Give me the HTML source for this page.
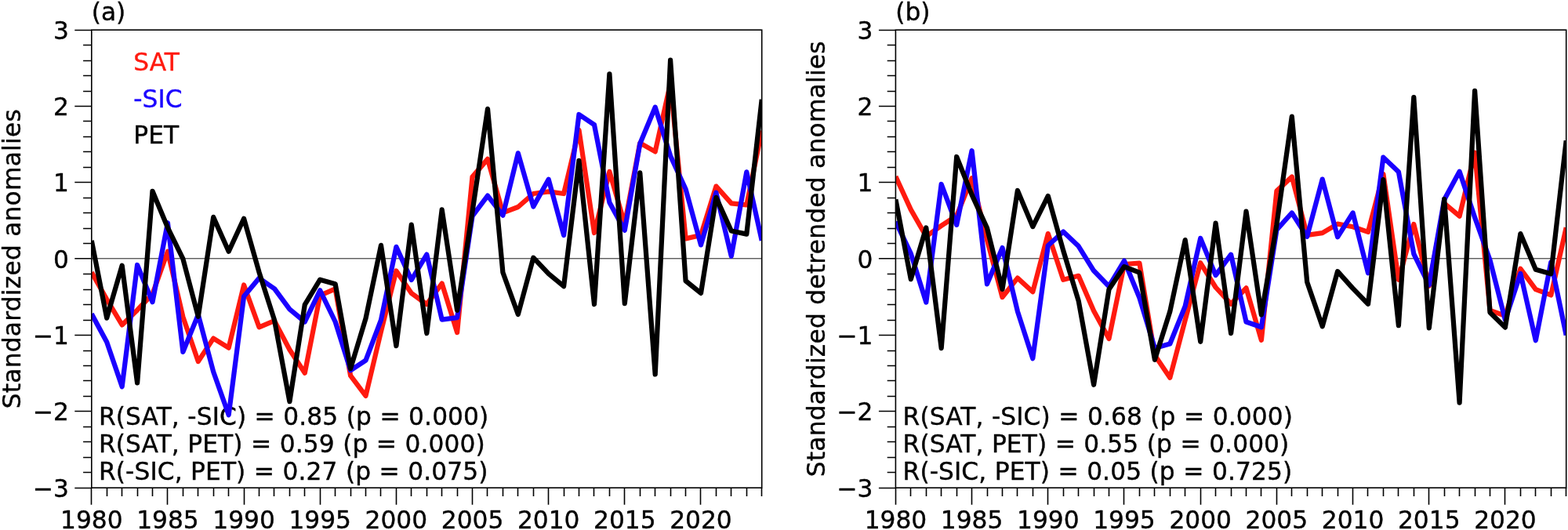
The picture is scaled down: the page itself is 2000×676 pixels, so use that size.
<!DOCTYPE html>
<html lang="en">
<head>
<meta charset="utf-8">
<title>Standardized anomalies of SAT, -SIC and PET</title>
<style>
html,body{margin:0;padding:0;background:#fff;}
body{width:2000px;height:676px;overflow:hidden;}
svg{display:block;}
text{font-family:"DejaVu Sans","Liberation Sans",sans-serif;font-size:31.25px;fill:#000;stroke:#000;stroke-width:0.4px;stroke-linejoin:round;}
.rt{word-spacing:0.4px;letter-spacing:0.1px;}
.yl{letter-spacing:0.25px;}
.ax{stroke:#000;stroke-width:1.6;fill:none;}
.tk{stroke:#000;stroke-width:1.6;fill:none;}
.zero{stroke:#1a1a1a;stroke-width:1;fill:none;}
.ln{fill:none;stroke-width:6.25;stroke-linejoin:round;stroke-linecap:butt;}
.sat{stroke:#ff1a0f;}
.sic{stroke:#1a00ff;}
.pet{stroke:#000;}
</style>
</head>
<body>
<svg width="2000" height="676" viewBox="0 0 2000 676">
<rect x="0" y="0" width="2000" height="676" fill="#fff"/>
<defs>
<clipPath id="clip-a"><rect x="116.8" y="38.2" width="854.9" height="584"/></clipPath>
<clipPath id="clip-b"><rect x="1142.4" y="38.2" width="855.3" height="584"/></clipPath>
</defs>
<g id="panel-a">
<text x="116.7" y="25.6">(a)</text>
<text x="170.3" y="90.2" style="fill:#ff1a0f;stroke:#ff1a0f">SAT</text>
<text x="170.3" y="136.6" style="fill:#1a00ff;stroke:#1a00ff">-SIC</text>
<text x="170.3" y="182.8" style="fill:#000;stroke:#000">PET</text>
<text class="rt" x="126" y="541.7">R(SAT, -SIC) = 0.85 (p = 0.000)</text>
<text class="rt" x="126" y="576.8">R(SAT, PET) = 0.59 (p = 0.000)</text>
<text class="rt" x="126" y="612.2">R(-SIC, PET) = 0.27 (p = 0.075)</text>
<text class="yl" transform="translate(25.9 330.2) rotate(-90)" text-anchor="middle">Standardized anomalies</text>
<line class="zero" x1="116.8" y1="329.8" x2="971.7" y2="329.8"/>
<g clip-path="url(#clip-a)">
<polyline class="ln sat" points="116.8,347.2 136.2,381.8 155.7,414.4 175.1,395.4 194.5,375.0 213.9,320.7 233.4,404.2 252.8,461.1 272.2,431.6 291.7,443.6 311.1,363.5 330.5,417.3 350.0,409.2 369.4,446.0 388.8,475.7 408.2,376.9 427.7,368.4 447.1,479.1 466.5,504.9 486.0,422.7 505.4,345.5 524.8,374.0 544.3,388.1 563.7,361.5 583.1,424.1 602.5,225.6 622.0,202.9 641.4,271.3 660.8,264.0 680.3,247.0 699.7,244.4 719.1,247.0 738.5,165.9 758.0,297.0 777.4,218.9 796.8,285.9 816.3,182.4 835.7,193.4 855.1,106.3 874.6,304.4 894.0,300.0 913.4,237.6 932.8,259.3 952.3,261.4 971.7,166.7"/>
<polyline class="ln sic" points="116.8,400.3 136.2,436.3 155.7,493.2 175.1,338.0 194.5,385.2 213.9,284.2 233.4,448.9 252.8,401.4 272.2,474.3 291.7,529.2 311.1,377.9 330.5,354.7 350.0,368.2 369.4,394.4 388.8,410.5 408.2,370.3 427.7,410.5 447.1,472.3 466.5,459.7 486.0,408.1 505.4,314.8 524.8,357.0 544.3,324.6 563.7,407.6 583.1,405.1 602.5,275.7 622.0,249.6 641.4,274.7 660.8,195.4 680.3,263.5 699.7,228.7 719.1,300.0 738.5,146.0 758.0,159.2 777.4,258.2 796.8,293.7 816.3,183.2 835.7,136.7 855.1,198.8 874.6,241.2 894.0,312.4 913.4,245.7 932.8,326.8 952.3,219.4 971.7,306.8"/>
<polyline class="ln pet" points="116.8,306.8 136.2,405.6 155.7,338.7 175.1,488.4 194.5,243.8 213.9,290.3 233.4,330.2 252.8,403.7 272.2,276.9 291.7,320.7 311.1,278.8 330.5,347.2 350.0,408.1 369.4,512.2 388.8,388.6 408.2,356.7 427.7,362.3 447.1,470.1 466.5,406.1 486.0,312.9 505.4,441.2 524.8,286.6 544.3,425.1 563.7,267.4 583.1,395.9 602.5,269.9 622.0,138.9 641.4,347.5 660.8,401.0 680.3,328.7 699.7,349.1 719.1,365.2 738.5,204.8 758.0,388.1 777.4,94.3 796.8,387.1 816.3,220.4 835.7,477.4 855.1,76.6 874.6,358.2 894.0,373.9 913.4,251.9 932.8,294.5 952.3,298.6 971.7,126.8"/>
</g>
<path class="tk" d="M116.8 622.5h-21.5M116.8 602.5h-10.7M116.8 583.5h-10.7M116.8 563.5h-10.7M116.8 544.5h-10.7M116.8 524.5h-21.5M116.8 505.5h-10.7M116.8 485.5h-10.7M116.8 466.5h-10.7M116.8 447.5h-10.7M116.8 427.5h-21.5M116.8 408.5h-10.7M116.8 388.5h-10.7M116.8 369.5h-10.7M116.8 349.5h-10.7M116.8 329.8h-21.5M116.8 310.5h-10.7M116.8 291.5h-10.7M116.8 271.5h-10.7M116.8 252.5h-10.7M116.8 232.5h-21.5M116.8 213.5h-10.7M116.8 193.5h-10.7M116.8 174.5h-10.7M116.8 154.5h-10.7M116.8 135.5h-21.5M116.8 116.5h-10.7M116.8 96.5h-10.7M116.8 77.5h-10.7M116.8 57.5h-10.7M116.8 38.5h-21.5M116.5 622.2v21.5M136.5 622.2v10.7M155.5 622.2v10.7M175.5 622.2v10.7M194.5 622.2v10.7M213.5 622.2v21.5M233.5 622.2v10.7M252.5 622.2v10.7M272.5 622.2v10.7M291.5 622.2v10.7M311.5 622.2v21.5M330.5 622.2v10.7M349.5 622.2v10.7M369.5 622.2v10.7M388.5 622.2v10.7M408.5 622.2v21.5M427.5 622.2v10.7M447.5 622.2v10.7M466.5 622.2v10.7M485.5 622.2v10.7M505.5 622.2v21.5M524.5 622.2v10.7M544.5 622.2v10.7M563.5 622.2v10.7M583.5 622.2v10.7M602.5 622.2v21.5M621.5 622.2v10.7M641.5 622.2v10.7M660.5 622.2v10.7M680.5 622.2v10.7M699.5 622.2v21.5M719.5 622.2v10.7M738.5 622.2v10.7M757.5 622.2v10.7M777.5 622.2v10.7M796.5 622.2v21.5M816.5 622.2v10.7M835.5 622.2v10.7M855.5 622.2v10.7M874.5 622.2v10.7M893.5 622.2v21.5M913.5 622.2v10.7M932.5 622.2v10.7M952.5 622.2v10.7M971.5 622.2v10.7"/>
<rect class="ax" x="116.8" y="38.2" width="854.9" height="584"/>
<text x="87.8" y="633.6" text-anchor="end">−3</text>
<text x="87.8" y="536.27" text-anchor="end">−2</text>
<text x="87.8" y="438.93" text-anchor="end">−1</text>
<text x="87.8" y="341.6" text-anchor="end">0</text>
<text x="87.8" y="244.27" text-anchor="end">1</text>
<text x="87.8" y="146.93" text-anchor="end">2</text>
<text x="87.8" y="49.6" text-anchor="end">3</text>
<text x="116.8" y="674.2" text-anchor="middle">1980</text>
<text x="213.95" y="674.2" text-anchor="middle">1985</text>
<text x="311.1" y="674.2" text-anchor="middle">1990</text>
<text x="408.24" y="674.2" text-anchor="middle">1995</text>
<text x="505.39" y="674.2" text-anchor="middle">2000</text>
<text x="602.54" y="674.2" text-anchor="middle">2005</text>
<text x="699.69" y="674.2" text-anchor="middle">2010</text>
<text x="796.83" y="674.2" text-anchor="middle">2015</text>
<text x="893.98" y="674.2" text-anchor="middle">2020</text>
</g>
<g id="panel-b">
<text x="1142.3" y="25.6">(b)</text>
<text class="rt" x="1151.6" y="541.7">R(SAT, -SIC) = 0.68 (p = 0.000)</text>
<text class="rt" x="1151.6" y="576.8">R(SAT, PET) = 0.55 (p = 0.000)</text>
<text class="rt" x="1151.6" y="612.2">R(-SIC, PET) = 0.05 (p = 0.725)</text>
<text class="yl" transform="translate(1051.9 330.2) rotate(-90)" text-anchor="middle">Standardized detrended anomalies</text>
<line class="zero" x1="1142.4" y1="329.8" x2="1997.7" y2="329.8"/>
<g clip-path="url(#clip-b)">
<polyline class="ln sat" points="1142.4,225.1 1161.8,267.4 1181.3,301.5 1200.7,287.9 1220.2,275.2 1239.6,227.2 1259.0,305.9 1278.5,379.1 1297.9,354.6 1317.3,372.2 1336.8,298.1 1356.2,356.7 1375.7,351.8 1395.1,396.4 1414.5,431.9 1434.0,337.0 1453.4,335.6 1472.9,453.1 1492.3,481.7 1511.7,408.1 1531.2,335.3 1550.6,366.5 1570.1,387.6 1589.5,367.3 1608.9,433.8 1628.4,243.6 1647.8,225.5 1667.2,299.9 1686.7,297.1 1706.1,285.6 1725.6,289.2 1745.0,295.9 1764.4,221.9 1783.9,356.9 1803.3,286.0 1822.8,364.8 1842.2,259.3 1861.6,275.7 1881.1,194.6 1900.5,395.9 1919.9,402.7 1939.4,342.8 1958.8,369.1 1978.3,376.4 1997.7,290.3"/>
<polyline class="ln sic" points="1142.4,282.5 1161.8,323.4 1181.3,385.5 1200.7,235.0 1220.2,286.8 1239.6,192.2 1259.0,362.3 1278.5,316.1 1297.9,397.1 1317.3,457.2 1336.8,313.2 1356.2,295.5 1375.7,314.1 1395.1,345.3 1414.5,365.2 1434.0,332.6 1453.4,379.8 1472.9,444.0 1492.3,438.5 1511.7,390.5 1531.2,303.9 1550.6,351.1 1570.1,324.7 1589.5,410.5 1608.9,417.3 1628.4,293.2 1647.8,271.5 1667.2,301.8 1686.7,228.6 1706.1,302.3 1725.6,271.5 1745.0,348.3 1764.4,200.7 1783.9,219.2 1803.3,323.8 1822.8,363.5 1842.2,254.6 1861.6,218.7 1881.1,277.2 1900.5,331.8 1919.9,408.0 1939.4,348.9 1958.8,434.2 1978.3,334.3 1997.7,427.5"/>
<polyline class="ln pet" points="1142.4,254.3 1161.8,356.2 1181.3,290.5 1200.7,444.1 1220.2,200.0 1239.6,248.4 1259.0,290.8 1278.5,368.9 1297.9,243.0 1317.3,289.1 1336.8,250.0 1356.2,319.5 1375.7,383.8 1395.1,490.8 1414.5,369.1 1434.0,340.1 1453.4,347.7 1472.9,458.8 1492.3,397.3 1511.7,306.1 1531.2,435.8 1550.6,284.7 1570.1,425.1 1589.5,269.6 1608.9,401.5 1628.4,286.4 1647.8,148.6 1667.2,359.7 1686.7,416.3 1706.1,346.2 1725.6,367.9 1745.0,387.8 1764.4,229.2 1783.9,415.2 1803.3,124.1 1822.8,418.3 1842.2,254.0 1861.6,513.6 1881.1,115.8 1900.5,398.6 1919.9,417.6 1939.4,298.1 1958.8,343.7 1978.3,349.2 1997.7,179.3"/>
</g>
<path class="tk" d="M1142.4 622.5h-21.5M1142.4 602.5h-10.7M1142.4 583.5h-10.7M1142.4 563.5h-10.7M1142.4 544.5h-10.7M1142.4 524.5h-21.5M1142.4 505.5h-10.7M1142.4 485.5h-10.7M1142.4 466.5h-10.7M1142.4 447.5h-10.7M1142.4 427.5h-21.5M1142.4 408.5h-10.7M1142.4 388.5h-10.7M1142.4 369.5h-10.7M1142.4 349.5h-10.7M1142.4 329.8h-21.5M1142.4 310.5h-10.7M1142.4 291.5h-10.7M1142.4 271.5h-10.7M1142.4 252.5h-10.7M1142.4 232.5h-21.5M1142.4 213.5h-10.7M1142.4 193.5h-10.7M1142.4 174.5h-10.7M1142.4 154.5h-10.7M1142.4 135.5h-21.5M1142.4 116.5h-10.7M1142.4 96.5h-10.7M1142.4 77.5h-10.7M1142.4 57.5h-10.7M1142.4 38.5h-21.5M1142.5 622.2v21.5M1161.5 622.2v10.7M1181.5 622.2v10.7M1200.5 622.2v10.7M1220.5 622.2v10.7M1239.5 622.2v21.5M1259.5 622.2v10.7M1278.5 622.2v10.7M1297.5 622.2v10.7M1317.5 622.2v10.7M1336.5 622.2v21.5M1356.5 622.2v10.7M1375.5 622.2v10.7M1395.5 622.2v10.7M1414.5 622.2v10.7M1433.5 622.2v21.5M1453.5 622.2v10.7M1472.5 622.2v10.7M1492.5 622.2v10.7M1511.5 622.2v10.7M1531.5 622.2v21.5M1550.5 622.2v10.7M1570.5 622.2v10.7M1589.5 622.2v10.7M1608.5 622.2v10.7M1628.5 622.2v21.5M1647.5 622.2v10.7M1667.5 622.2v10.7M1686.5 622.2v10.7M1706.5 622.2v10.7M1725.5 622.2v21.5M1744.5 622.2v10.7M1764.5 622.2v10.7M1783.5 622.2v10.7M1803.5 622.2v10.7M1822.5 622.2v21.5M1842.5 622.2v10.7M1861.5 622.2v10.7M1881.5 622.2v10.7M1900.5 622.2v10.7M1919.5 622.2v21.5M1939.5 622.2v10.7M1958.5 622.2v10.7M1978.5 622.2v10.7M1997.5 622.2v10.7"/>
<rect class="ax" x="1142.4" y="38.2" width="855.3" height="584"/>
<text x="1113.4" y="633.6" text-anchor="end">−3</text>
<text x="1113.4" y="536.27" text-anchor="end">−2</text>
<text x="1113.4" y="438.93" text-anchor="end">−1</text>
<text x="1113.4" y="341.6" text-anchor="end">0</text>
<text x="1113.4" y="244.27" text-anchor="end">1</text>
<text x="1113.4" y="146.93" text-anchor="end">2</text>
<text x="1113.4" y="49.6" text-anchor="end">3</text>
<text x="1142.4" y="674.2" text-anchor="middle">1980</text>
<text x="1239.59" y="674.2" text-anchor="middle">1985</text>
<text x="1336.79" y="674.2" text-anchor="middle">1990</text>
<text x="1433.98" y="674.2" text-anchor="middle">1995</text>
<text x="1531.17" y="674.2" text-anchor="middle">2000</text>
<text x="1628.37" y="674.2" text-anchor="middle">2005</text>
<text x="1725.56" y="674.2" text-anchor="middle">2010</text>
<text x="1822.75" y="674.2" text-anchor="middle">2015</text>
<text x="1919.95" y="674.2" text-anchor="middle">2020</text>
</g>
</svg>
</body>
</html>
